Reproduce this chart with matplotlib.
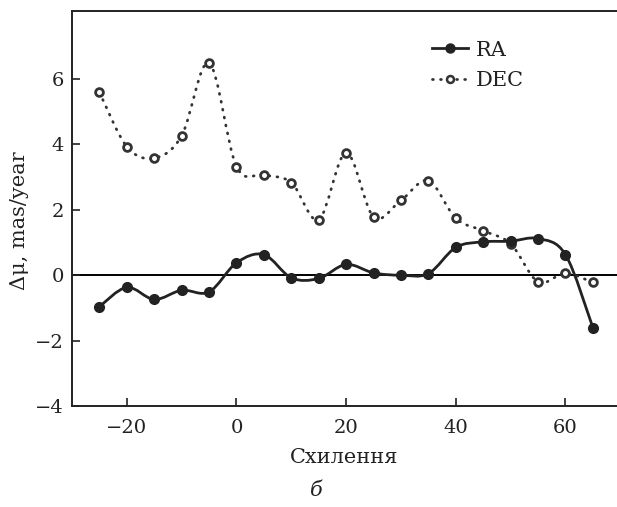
import matplotlib
matplotlib.use("Agg")
import matplotlib.pyplot as plt
import numpy as np
from matplotlib.lines import Line2D
from matplotlib.patches import PathPatch
from matplotlib.path import Path

# declination bins (deg)
decl = [-25, -20, -15, -10, -5, 0, 5, 10, 15, 20, 25, 30, 35, 40, 45, 50, 55, 60, 65]
ra = [-0.96, -0.37, -0.74, -0.46, -0.51, 0.38, 0.63, -0.08, -0.10, 0.33, 0.07, 0.0,
      0.05, 0.85, 1.02, 1.04, 1.12, 0.63, -1.60]
dec = [5.59, 3.93, 3.58, 4.26, 6.49, 3.32, 3.07, 2.83, 1.70, 3.74, 1.78, 2.29,
       2.89, 1.74, 1.36, 0.96, -0.20, 0.06, -0.22]

x_ticks = [-20, 0, 20, 40, 60]
y_ticks = [-4, -2, 0, 2, 4, 6]

plt.rcParams["font.family"] = ["DejaVu Serif"]

INK = "#222222"
DOTS = (0, (0.3, 2.6))


def smooth_path(xs, ys):
    """Catmull-Rom style Bezier through the points (like a 'smoothed line')."""
    p = np.column_stack([xs, ys]).astype(float)
    pad = np.vstack([p[0], p, p[-1]])
    verts = [p[0]]
    codes = [Path.MOVETO]
    for i in range(len(p) - 1):
        p0, p1, p2, p3 = pad[i], pad[i + 1], pad[i + 2], pad[i + 3]
        c1 = p1 + (p2 - p0) / 6.0
        c2 = p2 - (p3 - p1) / 6.0
        verts += [c1, c2, p2]
        codes += [Path.CURVE4] * 3
    return Path(verts, codes)


def minus(v):
    return str(v).replace("-", "\u2212")


fig = plt.figure(figsize=(6.17, 5.07), dpi=100)
ax = fig.add_axes([0.1167, 0.199, 0.8833, 0.779])

ax.axhline(0, color="black", lw=1.4, zorder=1)

ax.add_patch(PathPatch(smooth_path(decl, dec), fc="none", ec="#333333", lw=2.0,
                       ls=DOTS, capstyle="round", zorder=2))
ax.add_patch(PathPatch(smooth_path(decl, ra), fc="none", ec=INK, lw=2.0, zorder=3))

ax.plot(decl, dec, ls="none", marker="o", ms=5.6, mfc="white", mec="#333333", mew=2.0, zorder=4)
ax.plot(decl, ra, ls="none", marker="o", ms=7, mfc=INK, mec=INK, zorder=5)

ax.set_xlim(-30, 69.4)
ax.set_ylim(-4, 8.07)
ax.set_xticks(x_ticks, [minus(t) for t in x_ticks])
ax.set_yticks(y_ticks, [minus(t) for t in y_ticks])
ax.tick_params(direction="in", length=6, width=1.2, labelsize=14, color=INK, labelcolor=INK)
ax.tick_params(axis="x", pad=9)
ax.tick_params(axis="y", pad=6)
for side in ("left", "bottom", "top"):
    ax.spines[side].set_linewidth(1.4)
    ax.spines[side].set_color(INK)
ax.spines["right"].set_visible(False)

ax.set_ylabel("Δμ, mas/year", fontsize=15, color=INK)
ax.yaxis.set_label_coords(-0.078, 0.47)
ax.set_xlabel("Схилення", fontsize=15, color=INK, labelpad=8)

handles = [
    Line2D([], [], color=INK, lw=2.0, marker="o", ms=6.5, mfc=INK),
    Line2D([], [], color="#333333", lw=2.0, ls=DOTS, dash_capstyle="round",
           marker="o", ms=5, mfc="white", mec="#333333", mew=1.8),
]
ax.legend(handles, ["RA", "DEC"], loc="upper left", bbox_to_anchor=(0.66, 0.925),
          frameon=False, fontsize=15, handlelength=1.75, handletextpad=0.35,
          labelspacing=0.55, borderpad=0, borderaxespad=0, labelcolor=INK)

fig.text(316 / 617, 1 - 490 / 507, "б", fontsize=15, style="italic", ha="center",
         va="center", color=INK)

fig.savefig("out.png", dpi=100)
